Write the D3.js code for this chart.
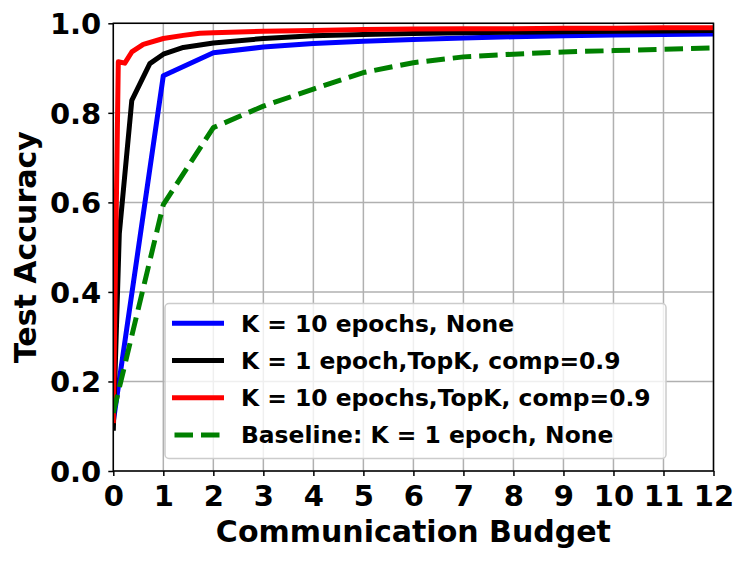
<!DOCTYPE html>
<html>
  <head>
    <meta charset="utf-8">
    <title>Test Accuracy vs Communication Budget</title>
    <script type="text/javascript" src="https://d3js.org/d3.v7.min.js"></script>
    <style>
      body { margin: 0; background: #fff; }
      text { font-family: "DejaVu Sans", sans-serif; font-weight: bold; }
    </style>
  </head>
  <body>
    <script type="text/javascript">
    var w = 748;
    var h = 561;

    // series data
    var blueX  = [0, 1, 2, 3, 4, 5, 6, 7, 8, 9, 10, 11, 12];
    var blueY  = [0.11, 0.883, 0.934, 0.947, 0.955, 0.96, 0.964, 0.967, 0.97, 0.972, 0.974, 0.975, 0.976];
    var blackX = [0, 0.12, 0.37, 0.73, 1, 1.4, 2, 3, 4, 5, 6, 7, 8, 9, 10, 11, 12];
    var blackY = [0.09, 0.53, 0.828, 0.91, 0.931, 0.946, 0.956, 0.966, 0.972, 0.975, 0.977, 0.979, 0.98, 0.981, 0.982, 0.983, 0.984];
    var redX   = [0, 0.1, 0.23, 0.37, 0.6, 1, 1.4, 1.73, 2, 3, 4, 5, 6, 7, 8, 9, 10, 11, 12];
    var redY   = [0.107, 0.914, 0.911, 0.936, 0.953, 0.966, 0.973, 0.978, 0.979, 0.982, 0.984, 0.986, 0.987, 0.988, 0.988, 0.989, 0.989, 0.99, 0.99];
    var greenX = [0, 1, 2, 3, 4, 5, 6, 7, 8, 9, 10, 11, 12];
    var greenY = [0.13, 0.595, 0.767, 0.815, 0.853, 0.89, 0.912, 0.925, 0.931, 0.936, 0.939, 0.942, 0.945];

    var seriesNames = ["K = 10 epochs, None", "K = 1 epoch,TopK, comp=0.9",
                       "K = 10 epochs,TopK, comp=0.9", "Baseline: K = 1 epoch, None"];
    var xTicks = [0, 1, 2, 3, 4, 5, 6, 7, 8, 9, 10, 11, 12];
    var yTicks = [0.0, 0.2, 0.4, 0.6, 0.8, 1.0];

    var series = [
      { name: seriesNames[0], xs: blueX,  ys: blueY,  color: "#0000ff", dash: null },
      { name: seriesNames[1], xs: blackX, ys: blackY, color: "#000000", dash: null },
      { name: seriesNames[2], xs: redX,   ys: redY,   color: "#ff0000", dash: null },
      { name: seriesNames[3], xs: greenX, ys: greenY, color: "#008000", dash: "18.5,8" }
    ];

    var pL = 113.3, pR = 713.5, pT = 23.3, pB = 471;

    var xScale = d3.scaleLinear().domain([0, 12]).range([pL, pR]);
    var yScale = d3.scaleLinear().domain([0, 1]).range([pB, pT]);

    var svg = d3.select("body").append("svg")
                .attr("width", w)
                .attr("height", h);

    svg.append("defs").append("clipPath").attr("id", "clip")
       .append("rect")
       .attr("x", pL).attr("y", pT)
       .attr("width", pR - pL).attr("height", pB - pT);

    // grid
    svg.append("g").selectAll("line").data(xTicks).enter().append("line")
       .attr("x1", function(d){ return xScale(d); })
       .attr("x2", function(d){ return xScale(d); })
       .attr("y1", pT).attr("y2", pB)
       .attr("stroke", "#b0b0b0").attr("stroke-width", 1.5);
    svg.append("g").selectAll("line").data(yTicks).enter().append("line")
       .attr("y1", function(d){ return yScale(d); })
       .attr("y2", function(d){ return yScale(d); })
       .attr("x1", pL).attr("x2", pR)
       .attr("stroke", "#b0b0b0").attr("stroke-width", 1.5);

    // lines
    var line = d3.line()
                 .x(function(d){ return xScale(d[0]); })
                 .y(function(d){ return yScale(d[1]); });

    svg.append("g").attr("clip-path", "url(#clip)")
       .selectAll("path").data(series).enter().append("path")
       .attr("d", function(s){ return line(d3.zip(s.xs, s.ys)); })
       .attr("fill", "none")
       .attr("stroke", function(s){ return s.color; })
       .attr("stroke-width", 5)
       .attr("stroke-linejoin", "round")
       .attr("stroke-dasharray", function(s){ return s.dash; });

    // axes
    var xAxis = d3.axisBottom(xScale).tickValues(xTicks).tickSize(5).tickPadding(7)
                  .tickFormat(d3.format("d"));
    var yAxis = d3.axisLeft(yScale).tickValues(yTicks).tickSize(5).tickPadding(7)
                  .tickFormat(d3.format(".1f"));

    var gx = svg.append("g").attr("transform", "translate(0," + pB + ")").call(xAxis);
    var gy = svg.append("g").attr("transform", "translate(" + pL + ",0)").call(yAxis);
    [gx, gy].forEach(function(g){
      g.select(".domain").remove();
      g.selectAll(".tick line").attr("stroke", "#000").attr("stroke-width", 1.5);
      g.selectAll(".tick text").attr("fill", "#000").style("font-size", "29px")
       .style("font-family", "'DejaVu Sans', sans-serif").style("font-weight", "bold");
    });
    gx.selectAll(".tick text").attr("dy", null).attr("y", 35);
    gy.selectAll(".tick text").attr("dy", "0.36em");

    // frame
    svg.append("rect")
       .attr("x", pL).attr("y", pT)
       .attr("width", pR - pL).attr("height", pB - pT)
       .attr("fill", "none").attr("stroke", "#000").attr("stroke-width", 1.5);

    // axis labels
    svg.append("text")
       .attr("x", (pL + pR) / 2).attr("y", 541.5)
       .attr("text-anchor", "middle")
       .style("font-size", "30px")
       .text("Communication Budget");
    svg.append("text")
       .attr("transform", "translate(36," + ((pT + pB) / 2) + ") rotate(-90)")
       .attr("text-anchor", "middle")
       .style("font-size", "30px")
       .text("Test Accuracy");

    // legend
    var lg = svg.append("g");
    lg.append("rect")
      .attr("x", 165).attr("y", 303.5)
      .attr("width", 501).attr("height", 155)
      .attr("rx", 4)
      .attr("fill", "#fff").attr("fill-opacity", 0.8)
      .attr("stroke", "#cccccc").attr("stroke-width", 1.5);

    var items = lg.selectAll("g.item").data(series).enter().append("g")
      .attr("transform", function(d, i){ return "translate(0," + (323.3 + i * 37.2) + ")"; });
    items.append("line")
      .attr("x1", 174.5).attr("x2", 221.5).attr("y1", 0).attr("y2", 0)
      .attr("stroke", function(s){ return s.color; })
      .attr("stroke-width", 5)
      .attr("stroke-linecap", function(s){ return s.dash ? "butt" : "square"; })
      .attr("stroke-dasharray", function(s){ return s.dash; });
    items.append("text")
      .attr("x", 241).attr("y", 8.4)
      .style("font-size", "23.4px")
      .text(function(s){ return s.name; });
    </script>
  </body>
</html>
